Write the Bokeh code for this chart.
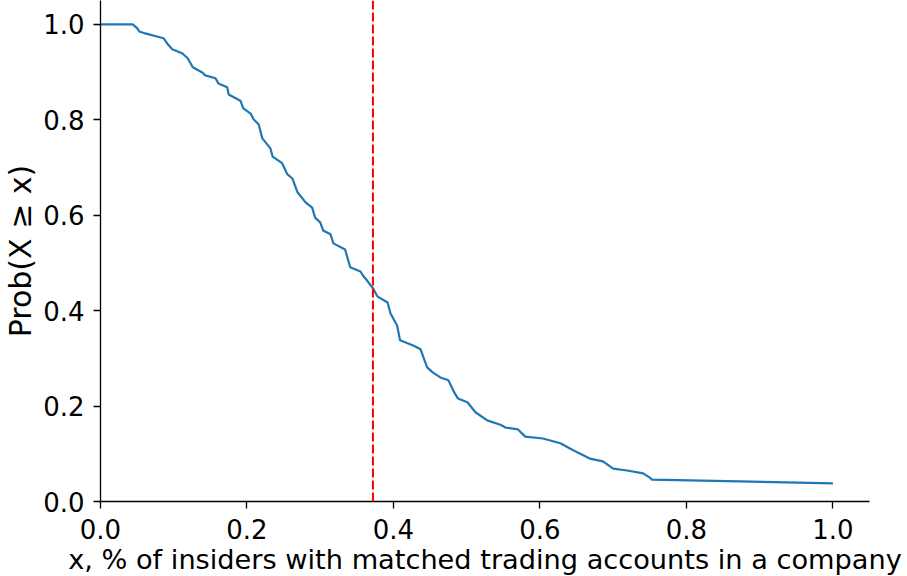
from bokeh.plotting import figure
from bokeh.models import Range1d, FixedTicker, Span
from bokeh.embed import file_html
from bokeh.resources import INLINE

# share of insiders with matched trading accounts (x) and Prob(X >= x) (y)
frac = [0.000, 0.044, 0.050, 0.053, 0.061, 0.086, 0.091, 0.098, 0.112, 0.119,
        0.126, 0.139, 0.143, 0.157, 0.161, 0.173, 0.175, 0.191, 0.195, 0.205,
        0.209, 0.216, 0.221, 0.232, 0.235, 0.248, 0.255, 0.262, 0.269, 0.280,
        0.289, 0.293, 0.300, 0.304, 0.314, 0.318, 0.334, 0.341, 0.355, 0.359,
        0.364, 0.372, 0.378, 0.392, 0.396, 0.405, 0.409, 0.427, 0.437, 0.446,
        0.454, 0.464, 0.475, 0.484, 0.488, 0.501, 0.512, 0.528, 0.546, 0.553,
        0.570, 0.580, 0.604, 0.628, 0.641, 0.651, 0.668, 0.686, 0.700, 0.719,
        0.741, 0.750, 0.753, 1.000]
prob = [1.000, 1.000, 0.992, 0.985, 0.981, 0.971, 0.960, 0.948, 0.939, 0.929,
        0.910, 0.899, 0.893, 0.887, 0.876, 0.868, 0.853, 0.840, 0.824, 0.813,
        0.801, 0.790, 0.761, 0.740, 0.723, 0.709, 0.686, 0.677, 0.648, 0.627,
        0.616, 0.595, 0.585, 0.568, 0.560, 0.541, 0.528, 0.491, 0.482, 0.472,
        0.463, 0.447, 0.430, 0.417, 0.394, 0.369, 0.338, 0.327, 0.319, 0.281,
        0.270, 0.260, 0.254, 0.226, 0.216, 0.208, 0.187, 0.170, 0.161, 0.155,
        0.151, 0.136, 0.132, 0.122, 0.111, 0.103, 0.090, 0.084, 0.069, 0.065,
        0.059, 0.050, 0.046, 0.038]
threshold = 0.372

x_ticks = [0.0, 0.2, 0.4, 0.6, 0.8, 1.0]
x_tick_labels = ["0.0", "0.2", "0.4", "0.6", "0.8", "1.0"]
y_ticks = [0.0, 0.2, 0.4, 0.6, 0.8, 1.0]
y_tick_labels = ["0.0", "0.2", "0.4", "0.6", "0.8", "1.0"]

FONT = "DejaVu Sans"

p = figure(output_backend="svg", toolbar_location=None,
           width=897, height=576,
           frame_width=769, frame_height=501,
           min_border_left=92, min_border_right=36,
           min_border_top=0, min_border_bottom=75,
           x_range=Range1d(0, 1.05), y_range=Range1d(0, 1.05),
           x_axis_label="x, % of insiders with matched trading accounts in a company",
           y_axis_label="Prob(X \u2265 x)")

p.outline_line_color = None
p.xgrid.visible = False
p.ygrid.visible = False
p.background_fill_color = "white"
p.border_fill_color = "white"

p.line(frac, prob, line_color="#1f77b4", line_width=2.2)

p.add_layout(Span(location=threshold, dimension="height", line_color="red",
                  line_width=2, line_dash="9 3"))

for ax, ticks, labels in ((p.xaxis[0], x_ticks, x_tick_labels),
                          (p.yaxis[0], y_ticks, y_tick_labels)):
    ax.ticker = FixedTicker(ticks=ticks)
    ax.major_label_overrides = {t: l for t, l in zip(ticks, labels)}
    ax.minor_tick_line_color = None
    ax.major_tick_in = 0
    ax.major_tick_out = 7
    ax.major_tick_line_width = 1.3
    ax.major_tick_line_color = "black"
    ax.axis_line_width = 1.3
    ax.axis_line_color = "black"
    ax.major_label_text_font = FONT
    ax.major_label_text_font_size = "26px"
    ax.major_label_text_color = "black"
    ax.axis_label_text_font = FONT
    ax.axis_label_text_font_style = "normal"
    ax.axis_label_text_color = "black"

p.xaxis[0].axis_label_text_font_size = "27.2px"
p.yaxis[0].axis_label_text_font_size = "30px"
p.xaxis[0].major_label_standoff = 10
p.xaxis[0].axis_label_standoff = 2
p.yaxis[0].major_label_standoff = 9
p.yaxis[0].axis_label_standoff = 2

open("out.html", "w").write(file_html(p, INLINE))
